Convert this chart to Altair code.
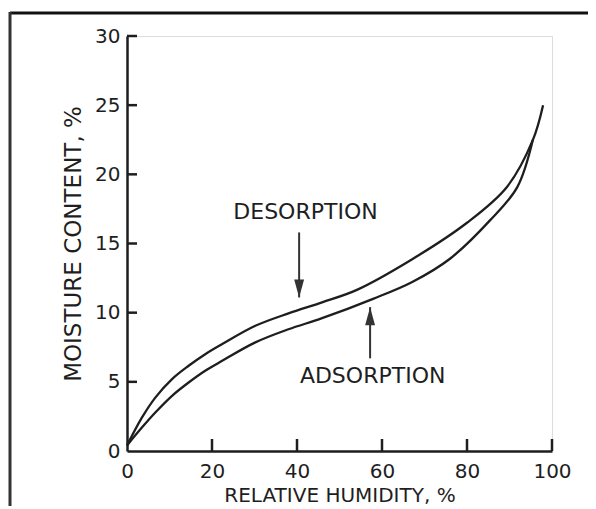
import altair as alt
import pandas as pd

# ---- data ----
des_x = [0, 3.5, 6.66, 10.6, 14.5, 18.4, 22.4, 30.2, 38.0, 45.9, 54.1, 67.3, 80.0, 89.4, 95.5, 97.9]
des_y = [0.4, 2.41, 3.86, 5.2, 6.16, 7.0, 7.73, 9.05, 9.95, 10.75, 11.65, 13.9, 16.5, 19.09, 22.49, 25.0]
ads_x = [0, 3.5, 6.66, 10.6, 14.5, 18.4, 22.4, 30.2, 38.0, 45.9, 57.9, 67.0, 76.0, 85.4, 91.8, 95.5]
ads_y = [0.4, 1.69, 2.78, 3.99, 4.95, 5.8, 6.52, 7.85, 8.8, 9.6, 11.0, 12.2, 13.9, 16.67, 19.06, 22.5]

x_ticks = [20, 40, 60, 80, 100]
y_ticks = [5, 10, 15, 20, 25, 30]

labels = ["DESORPTION", "ADSORPTION"]
label_x = [42.0, 57.8]
label_y = [17.3, 5.4]

arrow_x = [40.5, 57.2]
arrow_from = [15.8, 6.7]
arrow_to = [11.1, 10.4]

W, H = 425, 415
PAD = {"left": 119, "top": 28, "right": 36, "bottom": 55}
INK = "#1e1e1e"
FONT = "DejaVu Sans"

curves = pd.DataFrame(
    [{"series": "Desorption", "i": i, "rh": x, "mc": y} for i, (x, y) in enumerate(zip(des_x, des_y))]
    + [{"series": "Adsorption", "i": i, "rh": x, "mc": y} for i, (x, y) in enumerate(zip(ads_x, ads_y))]
)

xs = alt.Scale(domain=[0, 100], nice=False)
ys = alt.Scale(domain=[0, 30], nice=False)

xax = alt.Axis(values=[0, 20, 40, 60, 80, 100], ticks=False, grid=False,
               domainColor=INK, domainWidth=2.5, labelFont=FONT, labelFontSize=20,
               labelColor=INK, labelPadding=10, titleFont=FONT, titleFontSize=20,
               titleFontWeight="normal", titleColor=INK, titlePadding=4, labelFlush=False)
yax = alt.Axis(values=[0, 5, 10, 15, 20, 25, 30], ticks=False, grid=False,
               domainColor=INK, domainWidth=2.5, labelFont=FONT, labelFontSize=20,
               labelColor=INK, labelPadding=7, titleFont=FONT, titleFontSize=23,
               titleFontWeight="normal", titleColor=INK, titlePadding=9, labelFlush=False)

lines = alt.Chart(curves).mark_line(color=INK, strokeWidth=2.3, interpolate="catmull-rom").encode(
    x=alt.X("rh:Q", scale=xs, axis=xax, title="RELATIVE HUMIDITY, %"),
    y=alt.Y("mc:Q", scale=ys, axis=yax, title="MOISTURE CONTENT, %"),
    detail="series:N",
    order="i:Q",
)

yt = alt.Chart(pd.DataFrame({"v": y_ticks})).mark_rule(color=INK, strokeWidth=2.5).encode(
    y=alt.Y("v:Q", scale=ys), x=alt.value(0), x2=alt.value(10)
)
xt = alt.Chart(pd.DataFrame({"v": x_ticks})).mark_rule(color=INK, strokeWidth=2.5).encode(
    x=alt.X("v:Q", scale=xs), y=alt.value(H), y2=alt.value(H - 12)
)

ann = pd.DataFrame({"t": labels, "x": label_x, "y": label_y})
texts = alt.Chart(ann).mark_text(font=FONT, fontSize=22, color=INK, align="center",
                                 baseline="middle").encode(
    x=alt.X("x:Q", scale=xs), y=alt.Y("y:Q", scale=ys), text="t:N"
)

arr = pd.DataFrame({"x": arrow_x, "y1": arrow_from, "y2": arrow_to})
shafts = alt.Chart(arr).mark_rule(color="#333", strokeWidth=2).encode(
    x=alt.X("x:Q", scale=xs), y=alt.Y("y1:Q", scale=ys), y2="y2:Q"
)
head_down = alt.Chart(arr.iloc[[0]]).mark_point(
    filled=True, shape="M-0.55,-1L0.55,-1L0,1Z", size=324, color="#333", opacity=1, yOffset=-9
).encode(x=alt.X("x:Q", scale=xs), y=alt.Y("y2:Q", scale=ys))
head_up = alt.Chart(arr.iloc[[1]]).mark_point(
    filled=True, shape="M-0.55,1L0.55,1L0,-1Z", size=324, color="#333", opacity=1, yOffset=9
).encode(x=alt.X("x:Q", scale=xs), y=alt.Y("y2:Q", scale=ys))

frame_df = pd.DataFrame({"k": [0]})
frame_top = alt.Chart(frame_df).mark_rule(color="#111", strokeWidth=3).encode(
    x=alt.value(-117), x2=alt.value(W + 60), y=alt.value(-23)
)
frame_left = alt.Chart(frame_df).mark_rule(color="#333", strokeWidth=3).encode(
    x=alt.value(-117), y=alt.value(-24), y2=alt.value(H + 80)
)

chart = alt.layer(frame_top, frame_left, lines, yt, xt, shafts, head_down, head_up, texts).properties(
    width=W, height=H, autosize=alt.AutoSizeParams(type="none"), padding=PAD
).configure_view(stroke=None).configure(background="white")

chart.save("out.html", embed_options={"renderer": "svg", "actions": False})
